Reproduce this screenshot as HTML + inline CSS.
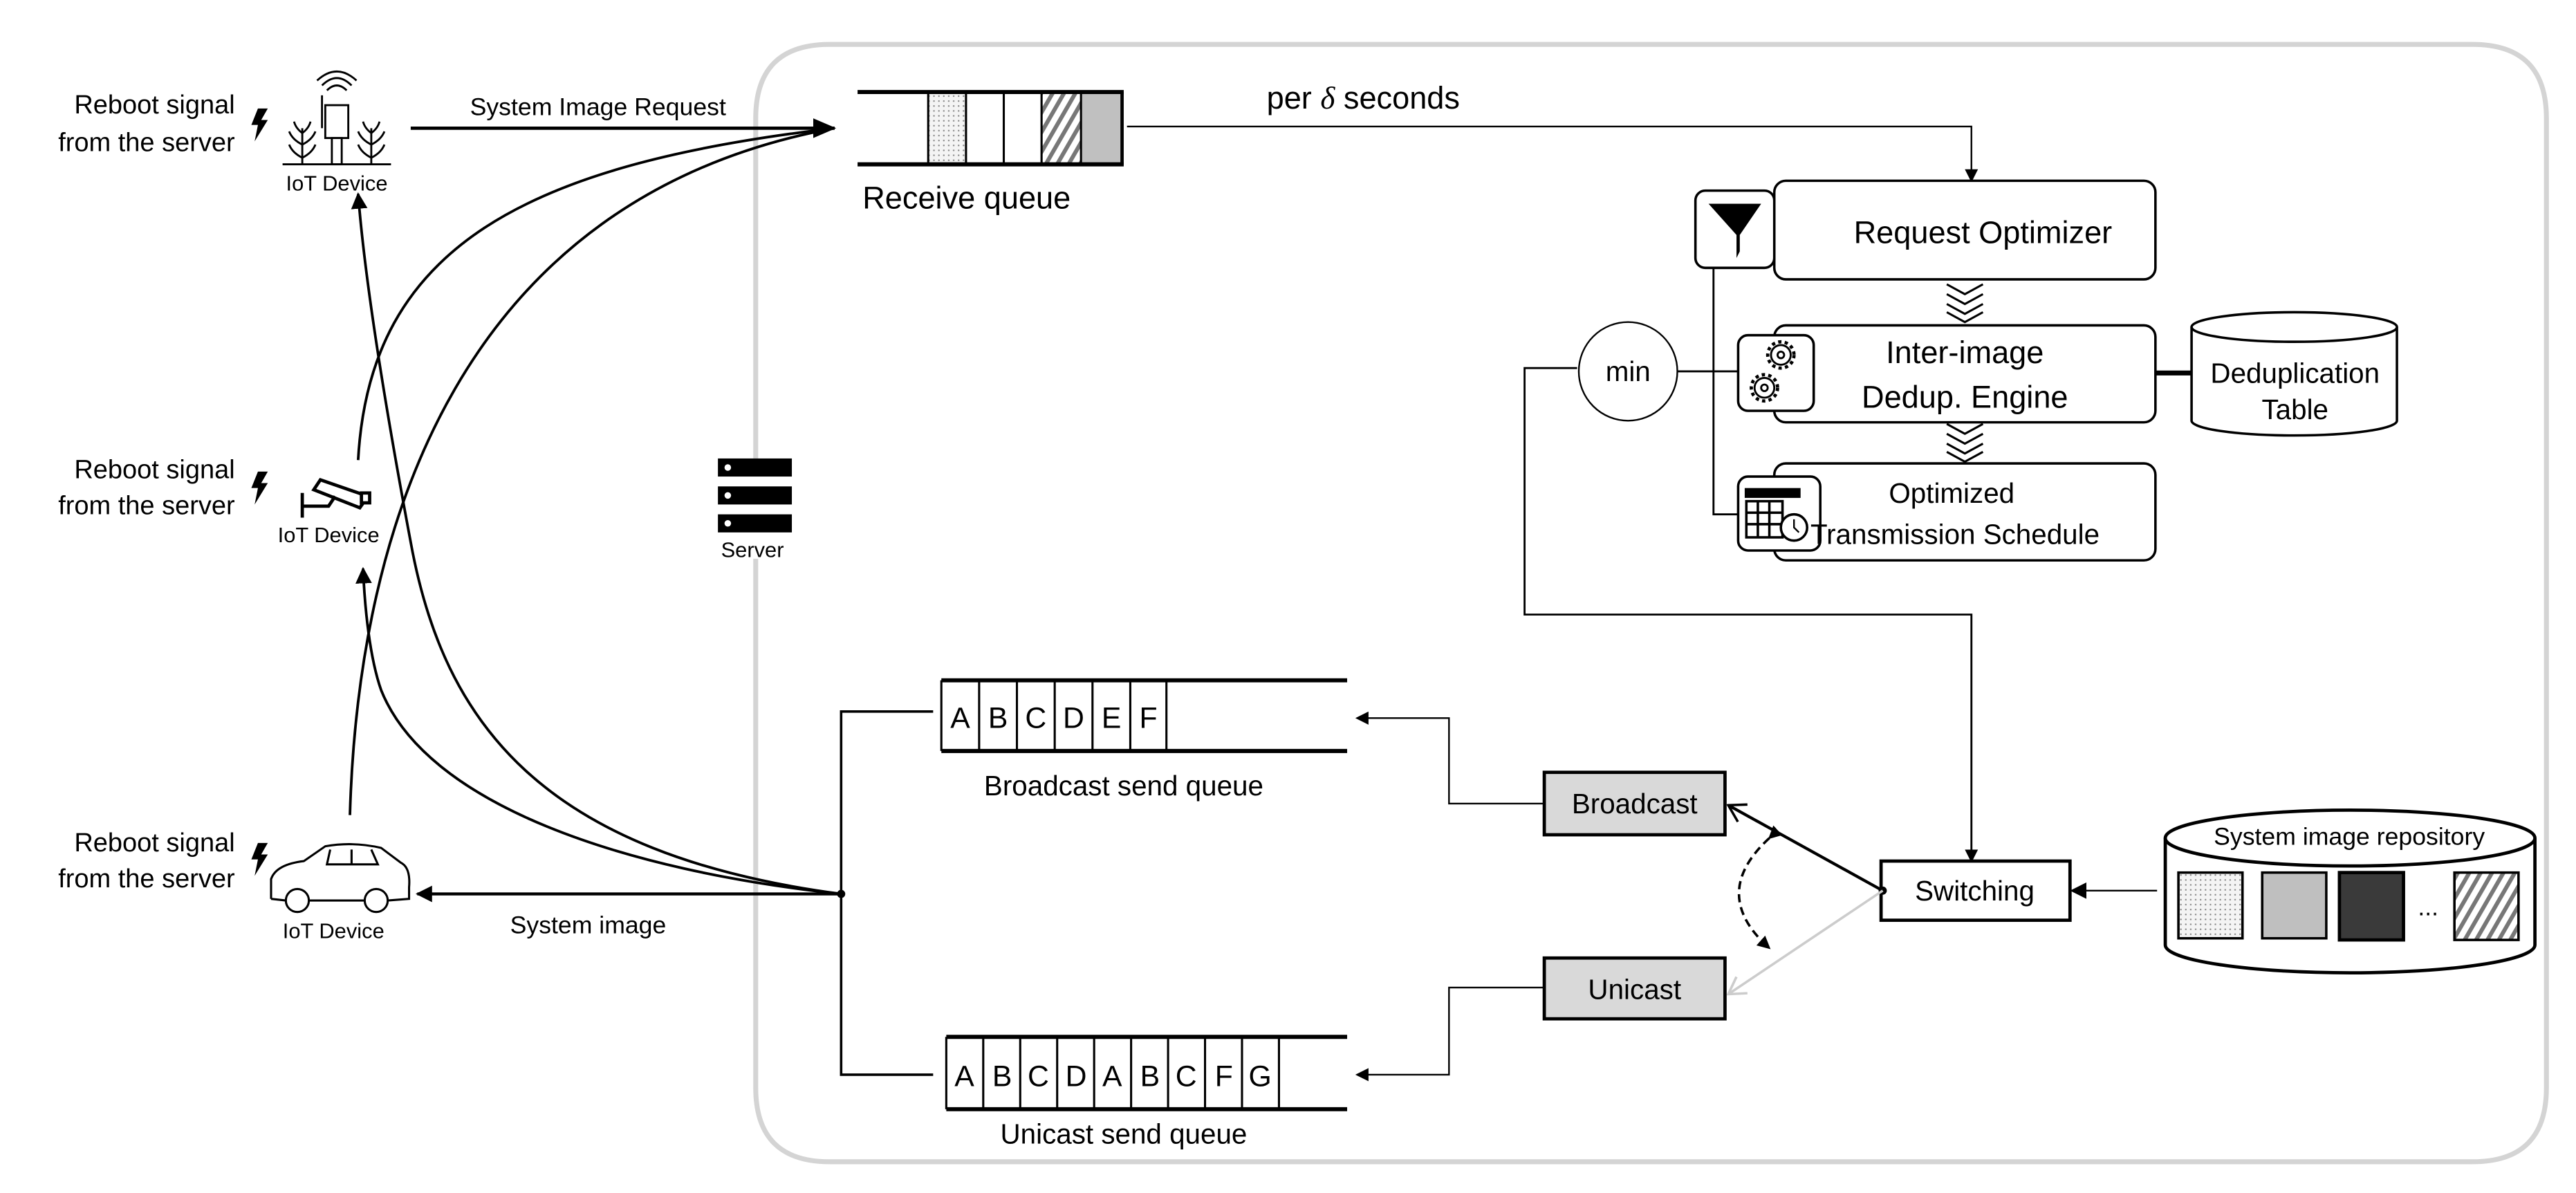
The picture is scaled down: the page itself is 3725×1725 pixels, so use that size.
<!DOCTYPE html>
<html><head><meta charset="utf-8"><style>
html,body{margin:0;padding:0;background:#fff;}
svg{display:block;}
text{font-family:"Liberation Sans",sans-serif;fill:#000;}
</style></head><body>
<svg width="3725" height="1725" viewBox="0 0 1568 726" preserveAspectRatio="none" xmlns="http://www.w3.org/2000/svg">
<defs>
<marker id="ah" markerWidth="10" markerHeight="10" refX="9" refY="5" orient="auto" markerUnits="userSpaceOnUse"><path d="M0,0 L10,5 L0,10 z" fill="#000"/></marker>
<marker id="ahs" markerWidth="8" markerHeight="8" refX="7" refY="4" orient="auto" markerUnits="userSpaceOnUse"><path d="M0,0 L8,4 L0,8 z" fill="#000"/></marker>
<marker id="ahl" markerWidth="14" markerHeight="12" refX="13" refY="6" orient="auto" markerUnits="userSpaceOnUse"><path d="M0,0 L14,6 L0,12 z" fill="#000"/></marker>
<marker id="oa" markerWidth="12" markerHeight="14" refX="11" refY="7" orient="auto" markerUnits="userSpaceOnUse"><path d="M1,1 L11,7 L1,13" fill="none" stroke="#000" stroke-width="1.5"/></marker>
<marker id="oag" markerWidth="12" markerHeight="14" refX="11" refY="7" orient="auto" markerUnits="userSpaceOnUse"><path d="M1,1 L11,7 L1,13" fill="none" stroke="#ccc" stroke-width="1.5"/></marker>
<pattern id="dots" width="3" height="3" patternUnits="userSpaceOnUse"><rect width="3" height="3" fill="#f4f4f4"/><circle cx="1.5" cy="1.5" r="0.5" fill="#888"/></pattern>
<pattern id="hatch" width="6" height="6" patternUnits="userSpaceOnUse" patternTransform="rotate(30)"><rect width="6" height="6" fill="#fff"/><rect width="2.5" height="6" fill="#777"/></pattern>
</defs>

<!-- server boundary -->
<path d="M460,280 L460,72 Q460,27 505,27 L1505,27 Q1550,27 1550,72 L1550,662 Q1550,707 1505,707 L505,707 Q460,707 460,662 L460,340" fill="none" stroke="#d4d4d4" stroke-width="3"/>
<rect x="437" y="279" width="45" height="11" fill="#000"/><rect x="437" y="296" width="45" height="11" fill="#000"/><rect x="437" y="313" width="45" height="11" fill="#000"/>
<circle cx="443" cy="284.5" r="2" fill="#fff"/><circle cx="443" cy="301.5" r="2" fill="#fff"/><circle cx="443" cy="318.5" r="2" fill="#fff"/>
<text x="458" y="339" font-size="13" text-anchor="middle">Server</text>

<!-- receive queue -->
<rect x="565" y="56" width="23" height="44" fill="url(#dots)"/>
<rect x="634" y="56" width="24" height="44" fill="url(#hatch)"/>
<rect x="658" y="56" width="25" height="44" fill="#c0c0c0"/>
<g stroke="#000" stroke-width="1.3" fill="none">
<line x1="522" y1="56" x2="684" y2="56" stroke-width="2.5"/><line x1="522" y1="100" x2="684" y2="100" stroke-width="2.5"/>
<line x1="565" y1="56" x2="565" y2="100"/><line x1="588" y1="56" x2="588" y2="100"/><line x1="611" y1="56" x2="611" y2="100"/><line x1="634" y1="56" x2="634" y2="100"/><line x1="658" y1="56" x2="658" y2="100"/><line x1="683" y1="56" x2="683" y2="100" stroke-width="2"/>
</g>
<text x="525" y="127" font-size="19">Receive queue</text>
<text x="771" y="66" font-size="19">per <tspan font-family="Liberation Serif" font-style="italic">δ</tspan> seconds</text>
<polyline points="686,77 1200,77 1200,110" fill="none" stroke="#000" stroke-width="1" marker-end="url(#ahs)"/>

<!-- min connector lines (behind icons) -->
<g fill="none" stroke="#000" stroke-width="1.2">
<polyline points="1034,139 1043,139 1043,313 1060,313"/>
<line x1="1021" y1="226" x2="1060" y2="226"/>
<polyline points="960,224 928,224 928,374 1200,374 1200,524" marker-end="url(#ahs)"/>
</g>

<!-- pipeline boxes -->
<g fill="#fff" stroke="#000" stroke-width="1.5">
<rect x="1080" y="110" width="232" height="60" rx="7"/>
<rect x="1080" y="198" width="232" height="59" rx="7"/>
<rect x="1080" y="282" width="232" height="59" rx="7"/>
<rect x="1032" y="116" width="48" height="47" rx="6"/>
<rect x="1058" y="204" width="46" height="46" rx="6"/>
<rect x="1058" y="290" width="50" height="45" rx="6"/>
</g>
<path d="M1040,124 L1072,124 L1059,143 L1059,153 L1057,157 L1057,143 z" fill="#000"/>
<g fill="none" stroke="#000" stroke-width="1.2">
<circle cx="1084" cy="216" r="6"/><circle cx="1084" cy="216" r="2"/>
<circle cx="1074" cy="236" r="6"/><circle cx="1074" cy="236" r="2"/>
</g>
<g stroke="#000" stroke-width="2" stroke-dasharray="2 2" fill="none"><circle cx="1084" cy="216" r="8"/><circle cx="1074" cy="236" r="8"/></g>
<rect x="1062" y="297" width="34" height="6" fill="#000"/>
<g stroke="#000" stroke-width="1.5" fill="none"><rect x="1063" y="305" width="22" height="22"/><line x1="1063" y1="312" x2="1085" y2="312"/><line x1="1063" y1="319" x2="1085" y2="319"/><line x1="1070" y1="305" x2="1070" y2="327"/><line x1="1077" y1="305" x2="1077" y2="327"/></g>
<circle cx="1092" cy="321" r="8" fill="#fff" stroke="#000" stroke-width="1.5"/><path d="M1092,316 L1092,321 L1095,324" stroke="#000" fill="none"/>
<text x="1207" y="148" font-size="19" text-anchor="middle">Request Optimizer</text>
<text x="1196" y="221" font-size="19" text-anchor="middle">Inter-image</text>
<text x="1196" y="248" font-size="19" text-anchor="middle">Dedup. Engine</text>
<text x="1188" y="306" font-size="17" text-anchor="middle">Optimized</text>
<text x="1190" y="331" font-size="17" text-anchor="middle">Transmission Schedule</text>
<g fill="none" stroke="#000" stroke-width="1.3">
<path d="M1185,173 L1196,179 L1207,173 M1185,179 L1196,185 L1207,179 M1185,185 L1196,191 L1207,185 M1185,190 L1196,196 L1207,190"/>
<path d="M1185,258 L1196,264 L1207,258 M1185,264 L1196,270 L1207,264 M1185,270 L1196,276 L1207,270 M1185,275 L1196,281 L1207,275"/>
</g>
<line x1="1312" y1="227" x2="1334" y2="227" stroke="#000" stroke-width="3"/>
<path d="M1334,199 L1334,256 A62.5,9 0 0 0 1459,256 L1459,199" fill="#fff" stroke="#000" stroke-width="1.5"/>
<ellipse cx="1396.5" cy="199" rx="62.5" ry="9" fill="#fff" stroke="#000" stroke-width="1.5"/>
<text x="1397" y="233" font-size="17" text-anchor="middle">Deduplication</text>
<text x="1397" y="255" font-size="17" text-anchor="middle">Table</text>

<!-- min -->
<circle cx="991" cy="226" r="30" fill="#fff" stroke="#000" stroke-width="1"/>
<text x="991" y="232" font-size="17" text-anchor="middle">min</text>

<!-- switching -->
<rect x="1145" y="524" width="115" height="36" fill="#fff" stroke="#000" stroke-width="2"/>
<text x="1202" y="548" font-size="17" text-anchor="middle">Switching</text>
<line x1="1313" y1="542" x2="1261" y2="542" stroke="#000" stroke-width="1" marker-end="url(#ah)"/>
<circle cx="1146" cy="542" r="2.5" fill="#000"/>
<line x1="1146" y1="542" x2="1052" y2="490" stroke="#000" stroke-width="1.8" marker-end="url(#oa)"/>
<line x1="1146" y1="542" x2="1052" y2="605" stroke="#ccc" stroke-width="1.5" marker-end="url(#oag)"/>
<path d="M1077,510 Q1040,544 1077,577" fill="none" stroke="#000" stroke-width="1.5" stroke-dasharray="5 3" marker-start="url(#ahs)" marker-end="url(#ahs)"/>

<!-- repository -->
<path d="M1318,510 L1318,575 A112.5,17 0 0 0 1543,575 L1543,510" fill="#fff" stroke="#000" stroke-width="2"/>
<ellipse cx="1430.5" cy="510" rx="112.5" ry="17" fill="#fff" stroke="#000" stroke-width="2"/>
<text x="1430" y="514" font-size="15" text-anchor="middle">System image repository</text>
<rect x="1326" y="531" width="39" height="40" fill="url(#dots)" stroke="#000" stroke-width="1.5"/>
<rect x="1377" y="531" width="39" height="40" fill="#bfbfbf" stroke="#000" stroke-width="1.5"/>
<rect x="1424" y="531" width="39" height="41" fill="#3a3a3a" stroke="#000" stroke-width="2"/>
<text x="1478" y="557" font-size="15" text-anchor="middle">...</text>
<rect x="1494" y="531" width="39" height="41" fill="url(#hatch)" stroke="#000" stroke-width="1.5"/>

<!-- broadcast / unicast -->
<rect x="940" y="470" width="110" height="38" fill="#d9d9d9" stroke="#000" stroke-width="2"/>
<text x="995" y="495" font-size="17" text-anchor="middle">Broadcast</text>
<rect x="940" y="583" width="110" height="37" fill="#d9d9d9" stroke="#000" stroke-width="2"/>
<text x="995" y="608" font-size="17" text-anchor="middle">Unicast</text>
<polyline points="940,489 882,489 882,437 826,437" fill="none" stroke="#000" stroke-width="1" marker-end="url(#ahs)"/>
<polyline points="940,601 882,601 882,654 826,654" fill="none" stroke="#000" stroke-width="1" marker-end="url(#ahs)"/>

<!-- broadcast queue -->
<g stroke="#000" stroke-width="1.3" fill="none">
<line x1="573" y1="414" x2="820" y2="414" stroke-width="2.5"/><line x1="573" y1="457" x2="820" y2="457" stroke-width="2.5"/>
<line x1="573" y1="414" x2="573" y2="457"/><line x1="596" y1="414" x2="596" y2="457"/><line x1="619" y1="414" x2="619" y2="457"/><line x1="642" y1="414" x2="642" y2="457"/><line x1="665" y1="414" x2="665" y2="457"/><line x1="688" y1="414" x2="688" y2="457"/><line x1="710" y1="414" x2="710" y2="457"/>
</g>
<g font-size="18" text-anchor="middle">
<text x="584.5" y="443">A</text><text x="607.5" y="443">B</text><text x="630.5" y="443">C</text><text x="653.5" y="443">D</text><text x="676.5" y="443">E</text><text x="699" y="443">F</text>
</g>
<text x="684" y="484" font-size="17" text-anchor="middle">Broadcast send queue</text>

<!-- unicast queue -->
<g stroke="#000" stroke-width="1.3" fill="none">
<line x1="576" y1="631" x2="820" y2="631" stroke-width="2.5"/><line x1="576" y1="675" x2="820" y2="675" stroke-width="2.5"/>
<line x1="576" y1="631" x2="576" y2="675"/><line x1="598.5" y1="631" x2="598.5" y2="675"/><line x1="621" y1="631" x2="621" y2="675"/><line x1="643.5" y1="631" x2="643.5" y2="675"/><line x1="666" y1="631" x2="666" y2="675"/><line x1="688.5" y1="631" x2="688.5" y2="675"/><line x1="711" y1="631" x2="711" y2="675"/><line x1="733.5" y1="631" x2="733.5" y2="675"/><line x1="756" y1="631" x2="756" y2="675"/><line x1="778.5" y1="631" x2="778.5" y2="675"/>
</g>
<g font-size="18" text-anchor="middle">
<text x="587" y="661">A</text><text x="610" y="661">B</text><text x="632" y="661">C</text><text x="655" y="661">D</text><text x="677" y="661">A</text><text x="700" y="661">B</text><text x="722" y="661">C</text><text x="745" y="661">F</text><text x="767" y="661">G</text>
</g>
<text x="684" y="696" font-size="17" text-anchor="middle">Unicast send queue</text>

<!-- bracket and output -->
<polyline points="568,433 512,433 512,654 568,654" fill="none" stroke="#000" stroke-width="1.5"/>
<circle cx="512" cy="544" r="2.5" fill="#000"/>
<line x1="512" y1="544" x2="254" y2="544" stroke="#000" stroke-width="1.8" marker-end="url(#ah)"/>
<text x="358" y="568" font-size="15" text-anchor="middle">System image</text>
<path d="M512,544 C330,520 270,440 250,330 C235,250 222,170 218,118" fill="none" stroke="#000" stroke-width="1.6" marker-end="url(#ah)"/>
<path d="M512,544 C380,530 260,490 232,420 C225,400 222,370 221,346" fill="none" stroke="#000" stroke-width="1.6" marker-end="url(#ah)"/>

<!-- requests -->
<line x1="250" y1="78" x2="508" y2="78" stroke="#000" stroke-width="2" marker-end="url(#ahl)"/>
<text x="364" y="70" font-size="15" text-anchor="middle">System Image Request</text>
<path d="M218,280 C225,150 320,100 508,78" fill="none" stroke="#000" stroke-width="1.6"/>
<path d="M213,496 C218,320 280,120 508,78" fill="none" stroke="#000" stroke-width="1.6"/>

<!-- devices -->
<g fill="none" stroke="#000" stroke-width="1.2">
<line x1="172" y1="100" x2="238" y2="100"/>
<rect x="198" y="64" width="14" height="20"/>
<rect x="202" y="84" width="6" height="16"/>
<line x1="196" y1="58" x2="196" y2="78"/>
<path d="M199,55 Q205,49 211,55 M196,52 Q205,43 214,52 M193,49 Q205,38 217,49"/>
<path d="M184,100 L184,78 M184,96 q-6,-3 -8,-8 M184,96 q6,-3 8,-8 M184,88 q-6,-3 -8,-8 M184,88 q6,-3 8,-8 M184,81 q-4,-3 -5,-7 M184,81 q4,-3 5,-7"/>
<path d="M226,100 L226,78 M226,96 q-6,-3 -8,-8 M226,96 q6,-3 8,-8 M226,88 q-6,-3 -8,-8 M226,88 q6,-3 8,-8 M226,81 q-4,-3 -5,-7 M226,81 q4,-3 5,-7"/>
</g>
<text x="205" y="116" font-size="13" text-anchor="middle">IoT Device</text>
<g stroke="#000" stroke-width="2" fill="#fff">
<path d="M195,292 L224,302 L219,309 L191,298 z"/>
<rect x="220" y="300" width="5" height="6"/>
<path d="M184,300 L184,315 M184,308 L200,308 L204,302" fill="none"/>
</g>
<text x="200" y="330" font-size="13" text-anchor="middle">IoT Device</text>
<g fill="none" stroke="#000" stroke-width="1.3">
<path d="M165,547 L165,535 Q168,526 185,524 L198,515 Q215,512 232,516 L244,525 Q250,528 249,540 L249,547 L236,548 M222,548 L188,548 M174,548 L165,547 Z"/>
<path d="M201,517 L199,526 L230,526 L226,517 M214,517 L214,526"/>
<circle cx="181" cy="548" r="7"/><circle cx="229" cy="548" r="7"/>
</g>
<text x="203" y="571" font-size="13" text-anchor="middle">IoT Device</text>

<!-- reboot labels -->
<g font-size="16" text-anchor="end">
<text x="143" y="69">Reboot signal</text><text x="143" y="92">from the server</text>
<text x="143" y="291">Reboot signal</text><text x="143" y="313">from the server</text>
<text x="143" y="518">Reboot signal</text><text x="143" y="540">from the server</text>
</g>
<g fill="#000">
<path d="M157,66 L163,66 L159,73 L163,73 L155,86 L157,76 L153,76 z"/>
<path d="M157,287 L163,287 L159,294 L163,294 L155,307 L157,297 L153,297 z"/>
<path d="M157,513 L163,513 L159,520 L163,520 L155,533 L157,523 L153,523 z"/>
</g>
</svg>
</body></html>
